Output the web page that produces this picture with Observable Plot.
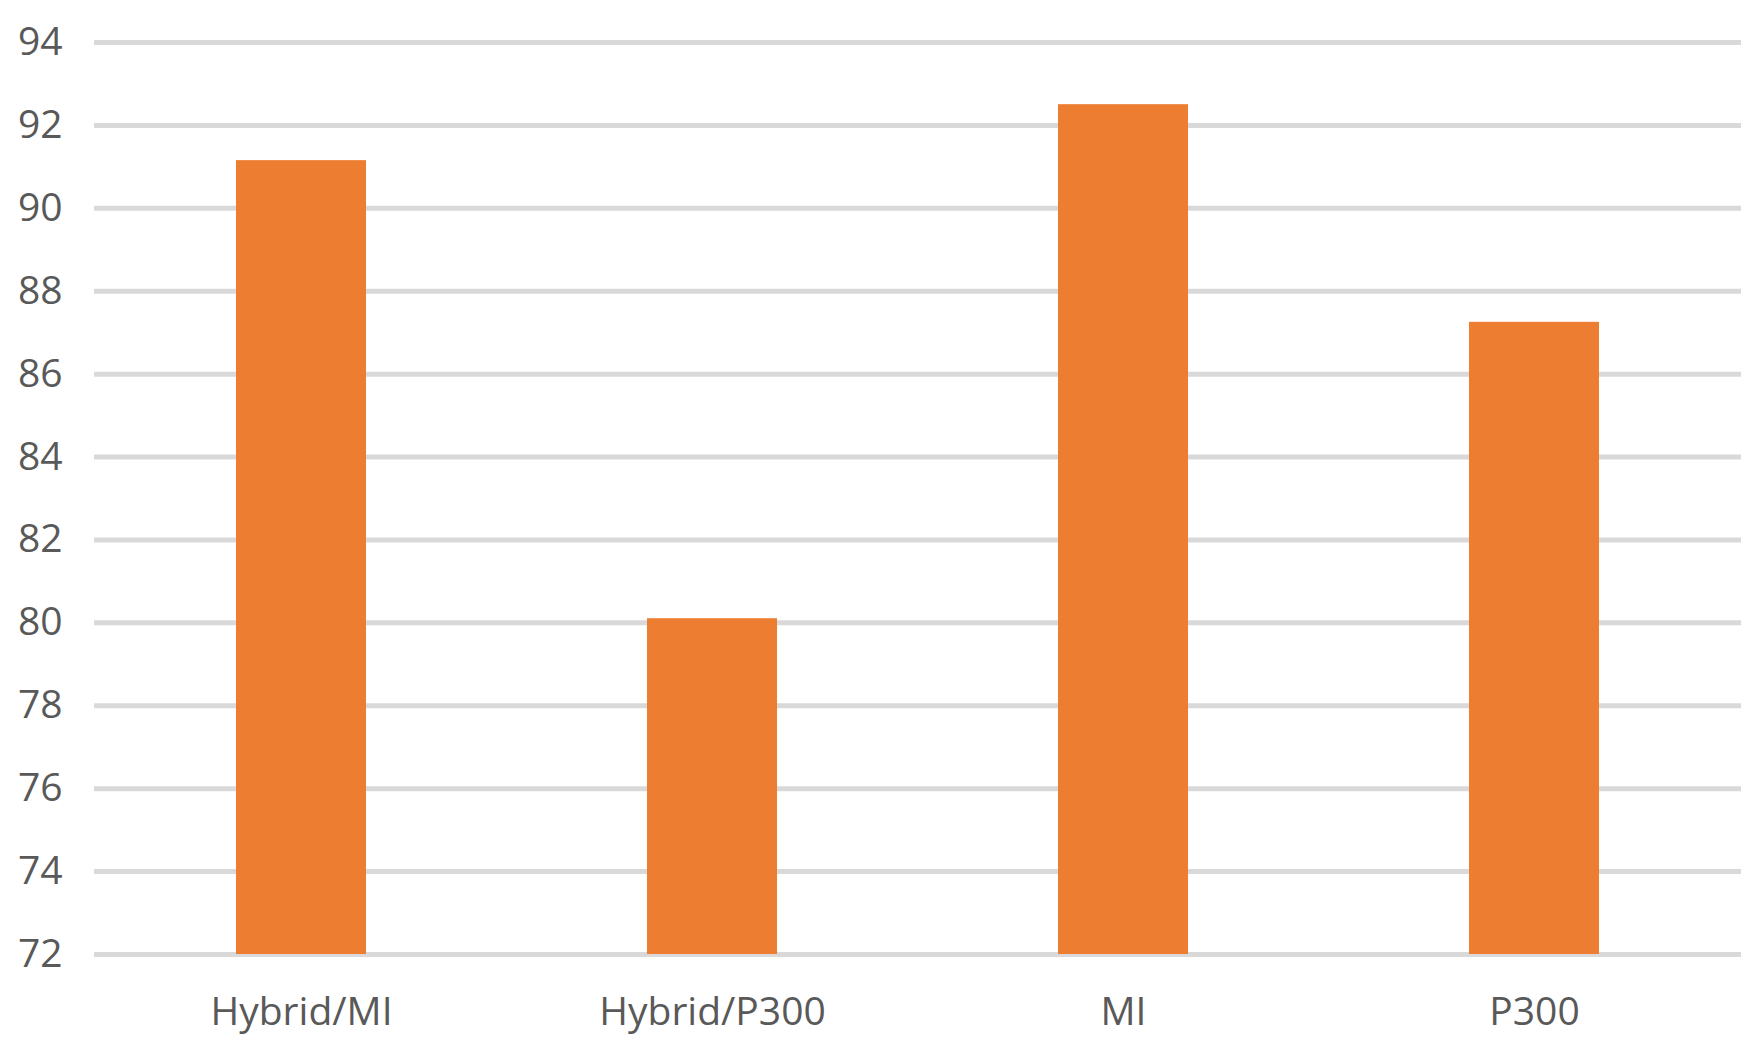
<!DOCTYPE html>
<html>
<head>
<meta charset="utf-8">
<script src="https://cdn.jsdelivr.net/npm/d3@7"></script>
<script src="https://cdn.jsdelivr.net/npm/@observablehq/plot@0.6"></script>
<style>
  html, body { margin: 0; padding: 0; background: #ffffff; }
</style>
</head>
<body>
<div id="chart"></div>
<script>
const categories = ["Hybrid/MI", "Hybrid/P300", "MI", "P300"];
const values = [91.15, 80.1, 92.5, 87.25];
const yTicks = [72, 74, 76, 78, 80, 82, 84, 86, 88, 90, 92, 94];

const data = categories.map((c, i) => ({category: c, value: values[i]}));

const chart = Plot.plot({
  width: 1761,
  height: 1046,
  marginLeft: 94,
  marginRight: 20,
  marginTop: 42,
  marginBottom: 92,
  style: {
    fontFamily: "'Open Sans', 'Noto Sans', sans-serif",
    fontSize: "39px",
    color: "#595959",
    background: "#ffffff"
  },
  x: {
    domain: categories,
    paddingInner: 0.684,
    paddingOuter: 0.342,
    label: null
  },
  y: {
    domain: [72, 94],
    label: null
  },
  marks: [
    Plot.ruleY(yTicks, {stroke: "#d9d9d9", strokeWidth: 5}),
    Plot.barY(data, {x: "category", y1: 72, y2: "value", fill: "#ed7d31"}),
    Plot.axisX({tickSize: 0, tickPadding: 43, label: null, fill: "#595959"}),
    Plot.axisY({ticks: yTicks, tickSize: 0, tickPadding: 32, label: null, tickFormat: d => String(d), fill: "#595959"})
  ]
});

document.getElementById("chart").appendChild(chart);
</script>
</body>
</html>
